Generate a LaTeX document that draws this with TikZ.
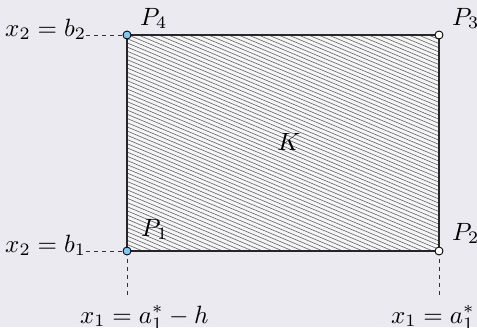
\documentclass[tikz,border=0pt]{standalone}
\begin{document}
\definecolor{bgc}{RGB}{234,234,240}
\definecolor{ptblue}{RGB}{130,200,245}
\begin{tikzpicture}[x=0.4pt,y=-0.4pt,
  hatch/.style={draw=black!60,line width=0.25pt},
  border/.style={draw=black!85,line width=0.5pt},
  dashline/.style={draw=black!80,line width=0.35pt,dash pattern=on 1.6pt off 1.6pt},
  ptfill/.style={draw=black,line width=0.35pt,fill=ptblue},
  ptopen/.style={draw=black,line width=0.35pt,fill=white},
  lbl/.style={inner sep=0pt,outer sep=0pt}]
\fill[bgc] (0,0) rectangle (477,327);
\useasboundingbox (0,0) rectangle (477,327);
\coordinate (P1) at (127,251);
\coordinate (P2) at (439,251);
\coordinate (P3) at (439,35);
\coordinate (P4) at (127,35);
\begin{scope}
  \clip (P1) rectangle (P3);
  \fill[white!50!bgc] (P1) rectangle (P3);
  \foreach \k in {0,...,90} \draw[hatch] (127,{-100+4.2*\k}) -- (439,{31+4.2*\k});
\end{scope}
\draw[border] (P1) rectangle (P3);
\node[lbl] (K) at (289,142) {$K$};
% left labels
\node[lbl,anchor=base east] (lb2) at (86,36) {$x_2=b_2$};
\node[lbl,anchor=base east] (lb1) at (86,252) {$x_2=b_1$};
\coordinate (e2) at (lb2.east |- P4);
\coordinate (e1) at (lb1.east |- P1);
\draw[dashline] (e2) -- (P4);
\draw[dashline] (e1) -- (P1);
% bottom labels
\node[lbl,anchor=base west] (la1) at (80,323) {$x_1=a_1^*-h$};
\node[lbl,anchor=base west] (la2) at (391,323) {$x_1=a_1^*$};
\coordinate (d1) at (127,299);
\coordinate (d2) at (439,296);
\draw[dashline] (P1) -- (d1);
\draw[dashline] (P2) -- (d2);
% point labels
\node[lbl,anchor=base west] (nP4) at (140,25) {$P_4$};
\node[lbl,anchor=base west] (nP3) at (452,25) {$P_3$};
\node[lbl,anchor=base west] (nP1) at (141,236) {$P_1$};
\node[lbl,anchor=base west] (nP2) at (452,240) {$P_2$};
% points
\filldraw[ptfill] (P1) circle[radius=1.6pt];
\filldraw[ptfill] (P4) circle[radius=1.6pt];
\filldraw[ptopen] (P2) circle[radius=1.6pt];
\filldraw[ptopen] (P3) circle[radius=1.6pt];
\end{tikzpicture}
\end{document}
